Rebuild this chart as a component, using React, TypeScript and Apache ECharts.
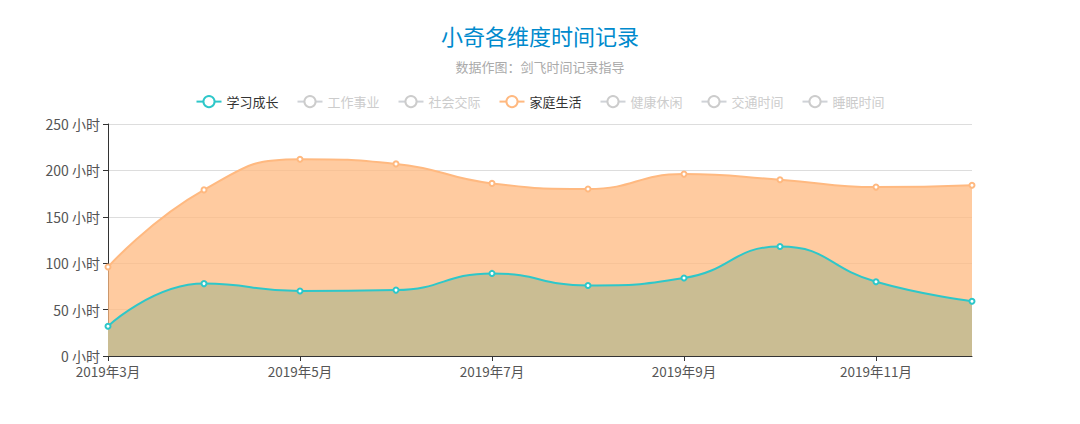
import { useEffect, useRef } from "react";
import * as echarts from "echarts";

type EChartsOption = echarts.EChartsOption;

const months = [
  "2019年3月", "2019年4月", "2019年5月", "2019年6月", "2019年7月",
  "2019年8月", "2019年9月", "2019年10月", "2019年11月", "2019年12月",
];

const legendNames = ["学习成长", "工作事业", "社会交际", "家庭生活", "健康休闲", "交通时间", "睡眠时间"];
const palette = ["#2ec7c9", "#b6a2de", "#5ab1ef", "#ffb980", "#d87a80", "#8d98b3", "#e5cf0d"];

// 只有两项默认显示
const study = [32, 78, 70, 71, 89, 76, 84, 118, 80, 59];
const family = [96, 179, 212, 207, 186, 180, 196, 190, 182, 184];
const work = [120, 130, 125, 140, 135, 128, 132, 138, 130, 126];
const social = [20, 25, 18, 22, 30, 24, 20, 26, 21, 19];
const health = [40, 35, 42, 38, 45, 40, 36, 41, 39, 37];
const traffic = [30, 28, 32, 29, 31, 27, 30, 33, 28, 29];
const sleep = [220, 215, 225, 218, 222, 219, 221, 216, 224, 220];

const seriesValues = [study, work, social, family, health, traffic, sleep];
const hidden = ["工作事业", "社会交际", "健康休闲", "交通时间", "睡眠时间"];

const fontFamily = "'Noto Sans CJK SC', 'Noto Sans', sans-serif";

export default function App() {
  const chartRef = useRef<HTMLDivElement>(null);

  useEffect(() => {
    if (!chartRef.current) return;
    const chart = echarts.init(chartRef.current, null, { renderer: "svg" });

    const selected: Record<string, boolean> = {};
    hidden.forEach(n => (selected[n] = false));

    const option: EChartsOption = {
      animation: false,
      color: palette,
      textStyle: { fontFamily },
      title: {
        text: "小奇各维度时间记录",
        subtext: "数据作图：剑飞时间记录指导",
        left: "center",
        top: 11,
        itemGap: 14,
        textStyle: { color: "#008acd", fontSize: 22, fontWeight: "normal", fontFamily },
        subtextStyle: { color: "#aaa", fontSize: 13, fontFamily },
      },
      legend: {
        top: 82,
        left: "center",
        data: legendNames,
        selected,
        itemGap: 18,
        inactiveColor: "#ccc",
        textStyle: { fontSize: 13, color: "#333", fontFamily },
      },
      grid: { left: 100, right: 100, top: 116, bottom: 68 },
      xAxis: {
        type: "category",
        boundaryGap: false,
        data: months,
        axisLine: { lineStyle: { color: "#333" } },
        axisTick: { show: true },
        axisLabel: { color: "#555", fontSize: 13.5, interval: 1 },
      },
      yAxis: {
        type: "value",
        min: 0,
        max: 250,
        interval: 50,
        axisLine: { show: true, lineStyle: { color: "#333" } },
        axisTick: { show: true },
        axisLabel: { formatter: "{value} 小时", color: "#555", fontSize: 14 },
        splitLine: { lineStyle: { color: "#ddd" } },
      },
      series: legendNames.map((name, i) => ({
        name,
        type: "line",
        smooth: true,
        symbol: "emptyCircle",
        symbolSize: 5,
        data: seriesValues[i],
        lineStyle: { width: 2 },
        areaStyle: { opacity: i === 0 ? 1 : 0.75 },
      })),
    };
    chart.setOption(option);

    return () => {
      chart.dispose();
    };
  }, []);

  return <div ref={chartRef} style={{ width: 1064, height: 416 }} />;
}
